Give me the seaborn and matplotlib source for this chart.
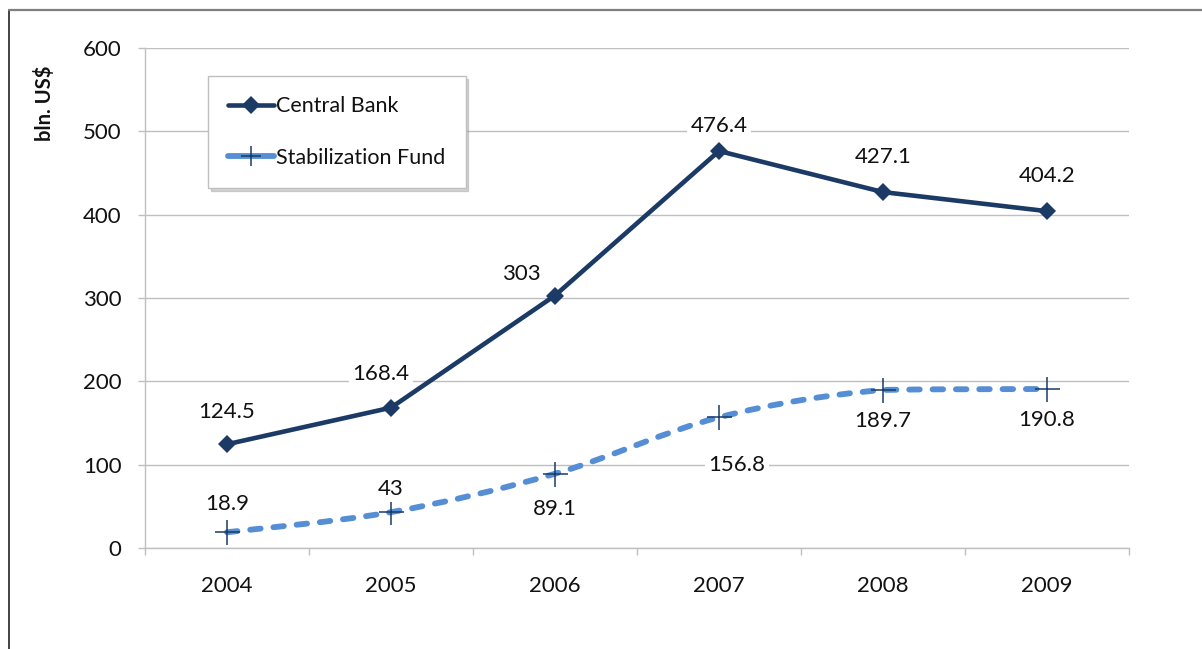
import matplotlib
matplotlib.use("Agg")
import matplotlib.pyplot as plt
import seaborn as sns
import pandas as pd
from matplotlib.path import Path
from matplotlib.patches import PathPatch
from matplotlib.lines import Line2D

years = ["2004", "2005", "2006", "2007", "2008", "2009"]
central_bank = [124.5, 168.4, 303, 476.4, 427.1, 404.2]
stab_fund = [18.9, 43, 89.1, 156.8, 189.7, 190.8]

cb_labels = ["124.5", "168.4", "303", "476.4", "427.1", "404.2"]
sf_labels = ["18.9", "43", "89.1", "156.8", "189.7", "190.8"]

# label offsets in pixels (dx, dy), positive dy = up
cb_off = [(0, 32), (-10, 34), (-34, 21), (0, 25), (0, 35), (0, 35)]
sf_off = [(0, 28), (0, 23), (0, -35), (18, -48), (0, -31), (0, -31)]

dark = "#1B3A66"
light = "#558ED5"
grid = "#BFBFBF"
txt = "#111111"
fs = 16

sns.set_theme(style="white")
plt.rcParams["font.family"] = ["Lato", "DejaVu Sans"]

df = pd.DataFrame({"x": range(len(years)), "cb": central_bank, "sf": stab_fund})

fig = plt.figure(figsize=(12.02, 6.49), dpi=100)
ax = fig.add_axes([145 / 1202, 1 - 548 / 649, 984 / 1202, 500 / 649])

# central bank: straight line with diamonds
sns.lineplot(data=df, x="x", y="cb", ax=ax, color=dark, linewidth=3.3,
             marker="D", markersize=9, markeredgewidth=0, zorder=4)

# stabilization fund: smoothed dashed curve (excel style)
pts = list(zip(df["x"], df["sf"]))
verts = [pts[0]]
codes = [Path.MOVETO]
n = len(pts)
for i in range(n - 1):
    p0 = pts[max(i - 1, 0)]
    p1 = pts[i]
    p2 = pts[i + 1]
    p3 = pts[min(i + 2, n - 1)]
    lo, hi = min(p1[1], p2[1]), max(p1[1], p2[1])
    c1 = (p1[0] + (p2[0] - p0[0]) / 6, min(max(p1[1] + (p2[1] - p0[1]) / 6, lo), hi))
    c2 = (p2[0] - (p3[0] - p1[0]) / 6, min(max(p2[1] - (p3[1] - p1[1]) / 6, lo), hi))
    verts += [c1, c2, p2]
    codes += [Path.CURVE4] * 3
curve = PathPatch(Path(verts, codes), fill=False, edgecolor=light, linewidth=4.2,
                  linestyle=(0, (1.8, 2.2)), capstyle="round", zorder=3)
ax.add_patch(curve)
sns.lineplot(data=df, x="x", y="sf", ax=ax, linestyle="", marker="+",
             markersize=18, markeredgewidth=1.1, color=dark,
             markeredgecolor=dark, zorder=5)

# data labels
for i in range(n):
    dx, dy = cb_off[i]
    ax.annotate(cb_labels[i], (df["x"][i], central_bank[i]), xytext=(dx * 0.72, dy * 0.72),
                textcoords="offset points", ha="center", va="center", fontsize=fs,
                color=txt, zorder=6,
                bbox=dict(boxstyle="square,pad=0.15", fc="white", ec="none"))
    dx, dy = sf_off[i]
    ax.annotate(sf_labels[i], (df["x"][i], stab_fund[i]), xytext=(dx * 0.72, dy * 0.72),
                textcoords="offset points", ha="center", va="center", fontsize=fs,
                color=txt, zorder=6,
                bbox=dict(boxstyle="square,pad=0.15", fc="white", ec="none"))

ax.set_xlim(-0.5, 5.5)
ax.set_ylim(0, 600)
ax.set_yticks(range(0, 601, 100))
ax.set_xticks(range(len(years)))
ax.set_xticklabels(years)
ax.set_xticks([i - 0.5 for i in range(len(years) + 1)], minor=True)
ax.set_xlabel("")
ax.set_ylabel("")
ax.yaxis.grid(True, color=grid, linewidth=1)
ax.set_axisbelow(True)
for s in ["top", "right"]:
    ax.spines[s].set_visible(False)
for s in ["left", "bottom"]:
    ax.spines[s].set_color(grid)
    ax.spines[s].set_linewidth(1)
ax.tick_params(axis="y", which="major", length=5, color=grid, width=1,
               labelsize=fs, pad=12, left=True, labelcolor=txt)
ax.tick_params(axis="x", which="major", length=0, labelsize=fs, pad=20,
               labelcolor=txt)
ax.tick_params(axis="x", which="minor", length=5, color=grid, width=1,
               direction="out", bottom=True)

fig.text(45 / 1202, 1 - 103 / 649, "bln. US$", rotation=90, ha="center",
         va="center", fontsize=14.5, fontweight="bold", color=txt)

handles = [
    Line2D([], [], color=dark, linewidth=3.3, marker="D", markersize=9,
           markeredgewidth=0),
    Line2D([], [], color=light, linewidth=4.2, marker="+", markersize=15,
           markeredgewidth=1.1, markeredgecolor=dark, solid_capstyle="round"),
]
leg = ax.legend(handles, ["Central Bank", "Stabilization Fund"],
                loc="upper left", bbox_to_anchor=(63 / 984, (548 - 76) / 500),
                borderaxespad=0, fontsize=15.5, frameon=True, fancybox=False,
                shadow={"color": "#888888", "alpha": 0.35, "ox": 2, "oy": -2},
                edgecolor=grid, labelspacing=1.45, handlelength=2.1,
                handletextpad=0.1, borderpad=0.95)
leg.get_frame().set_linewidth(1)
for t in leg.get_texts():
    t.set_color(txt)

# outer frame lines (left and top)
fig.add_artist(Line2D([9 / 1202, 9 / 1202], [0, 1 - 10 / 649], color="#222222",
                      linewidth=1.2, transform=fig.transFigure))
fig.add_artist(Line2D([9 / 1202, 1], [1 - 10 / 649, 1 - 10 / 649], color="#7F7F7F",
                      linewidth=1.6, transform=fig.transFigure))

fig.savefig("out.png", dpi=100)
